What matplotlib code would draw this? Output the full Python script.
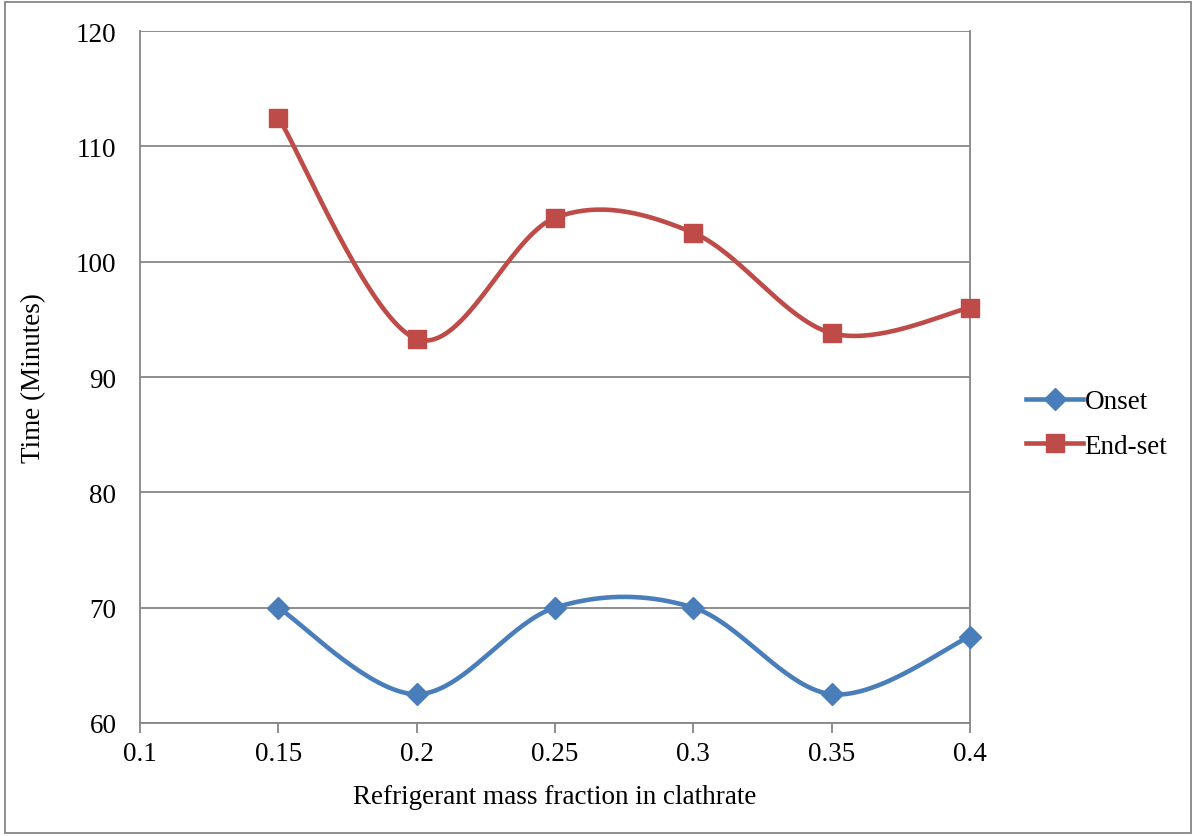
import numpy as np
import matplotlib
matplotlib.use("Agg")
import matplotlib.pyplot as plt
from matplotlib.patches import Rectangle

# Data
fraction = [0.15, 0.2, 0.25, 0.3, 0.35, 0.4]
onset = [70.0, 62.5, 70.0, 70.0, 62.5, 67.5]
endset = [112.5, 93.3, 103.8, 102.5, 93.8, 96.0]
series_names = ["Onset", "End-set"]
x_ticks = [0.1, 0.15, 0.2, 0.25, 0.3, 0.35, 0.4]
x_tick_labels = ["0.1", "0.15", "0.2", "0.25", "0.3", "0.35", "0.4"]
y_ticks = [60, 70, 80, 90, 100, 110, 120]

BLUE = "#4A7EBB"
RED = "#BE4B48"
GRID = "#868686"

plt.rcParams["font.family"] = ["Liberation Serif", "DejaVu Serif"]


def smooth(xs, ys, n=40):
    """Cardinal Bezier smoothing through the given points."""
    p = np.column_stack([xs, ys]).astype(float)
    ext = np.vstack([p[0], p, p[-1]])
    out = []
    t = np.linspace(0, 1, n)[:, None]
    for i in range(len(p) - 1):
        p0 = ext[i + 1]
        p3 = ext[i + 2]
        c1 = p0 + (ext[i + 2] - ext[i]) / 6.0
        c2 = p3 - (ext[i + 3] - ext[i + 1]) / 6.0
        seg = ((1 - t) ** 3) * p0 + 3 * ((1 - t) ** 2) * t * c1 \
            + 3 * (1 - t) * t ** 2 * c2 + t ** 3 * p3
        out.append(seg if i == 0 else seg[1:])
    c = np.vstack(out)
    return c[:, 0], c[:, 1]


fig = plt.figure(figsize=(11.94, 8.37), dpi=100)
ax = fig.add_axes([140 / 1194, 1 - 724 / 837, 830 / 1194, 692 / 837])

for ys, color, marker, ms, name in [
    (onset, BLUE, "D", 11, series_names[0]),
    (endset, RED, "s", 13.5, series_names[1]),
]:
    sx, sy = smooth(fraction, ys)
    ax.plot(sx, sy, color=color, lw=3.3, solid_capstyle="round", zorder=3,
            clip_on=False)
    ax.plot(fraction, ys, ls="none", marker=marker, ms=ms, color=color,
            mec=color, zorder=4, clip_on=False)
    ax.plot([], [], color=color, lw=3.3, marker=marker, ms=ms, mec=color,
            label=name)

ax.set_xlim(0.1, 0.4)
ax.set_ylim(60, 120)
ax.set_xticks(x_ticks)
ax.set_xticklabels(x_tick_labels)
ax.set_yticks(y_ticks)
ax.yaxis.grid(True, color=GRID, lw=1.3)
ax.set_axisbelow(True)

for side in ["left", "bottom", "right"]:
    ax.spines[side].set_color(GRID)
    ax.spines[side].set_linewidth(1.3)
ax.spines["top"].set_visible(False)

ax.tick_params(axis="x", direction="out", length=7, width=1.3, color=GRID,
               labelsize=19.5, pad=6)
ax.tick_params(axis="y", length=0, labelsize=19.5, pad=17)

ax.set_xlabel("Refrigerant mass fraction in clathrate", fontsize=19.5,
              labelpad=13)
ax.set_ylabel("Time (Minutes)", fontsize=19.5, labelpad=21)

fig.legend(loc="center left", bbox_to_anchor=(1002 / 1194, 1 - 425 / 837),
           frameon=False, fontsize=19.5, handlelength=2.1, handletextpad=0.05,
           labelspacing=0.72)

fig.patches.append(Rectangle((5 / 1194, 3 / 837), 1186 / 1194, 831 / 837,
                             transform=fig.transFigure, fill=False,
                             edgecolor=GRID, lw=1.3))

fig.savefig("out.png", dpi=100)
